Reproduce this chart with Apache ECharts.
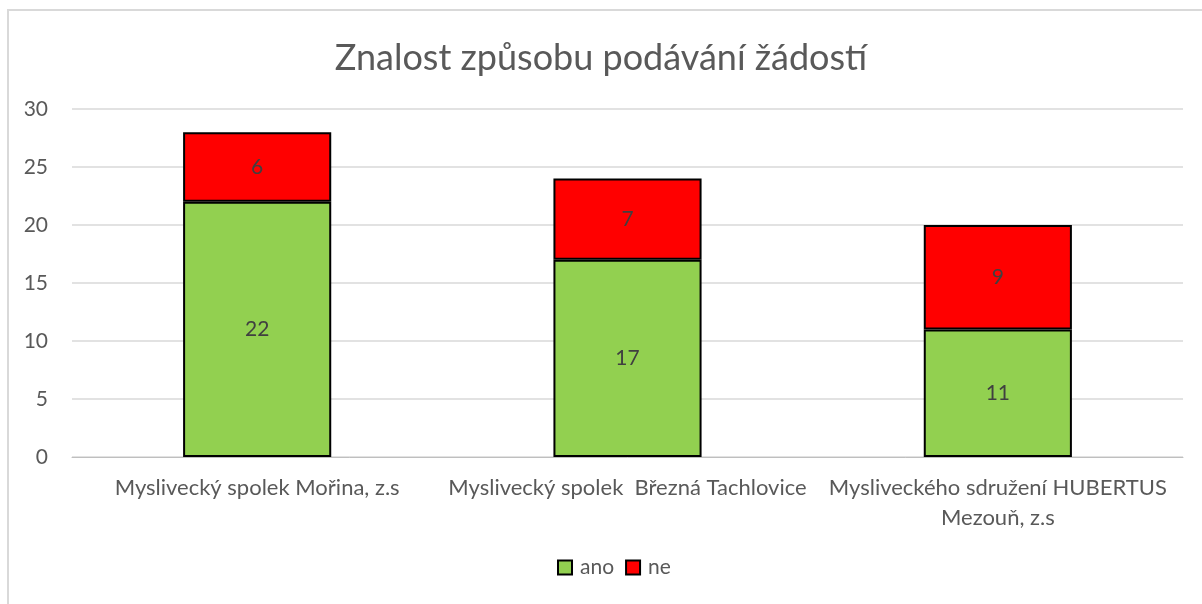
<!DOCTYPE html>
<html>
<head>
<meta charset="utf-8">
<script src="https://cdn.jsdelivr.net/npm/echarts@6/dist/echarts.min.js"></script>
<style>
  html, body { margin: 0; padding: 0; background: #fff; }
  #chart { width: 1202px; height: 604px; }
</style>
</head>
<body>
<div id="chart"></div>
<script>
// data
var titleText = "Znalost způsobu podávání žádostí";
var categories = [
  "Myslivecký spolek Mořina, z.s",
  "Myslivecký spolek  Březná Tachlovice",
  "Mysliveckého sdružení HUBERTUS\nMezouň, z.s"
];
var anoValues = [22, 17, 11];
var neValues = [6, 7, 9];

var textColor = "#595959";
var fontName = "Lato, 'Open Sans', sans-serif";

var chart = echarts.init(document.getElementById("chart"));

var option = {
  backgroundColor: "#fff",
  animation: false,
  textStyle: { fontFamily: fontName },
  graphic: [
    {
      type: "rect",
      shape: { x: 8, y: 10, width: 1220, height: 620 },
      style: { fill: "none", stroke: "#d9d9d9", lineWidth: 2 },
      silent: true
    }
  ],
  title: {
    text: titleText,
    left: "center",
    top: 35,
    textStyle: { color: textColor, fontSize: 36, fontWeight: "normal", fontFamily: fontName }
  },
  legend: {
    bottom: 21,
    left: 552,
    itemWidth: 14,
    itemHeight: 14,
    itemGap: 11,
    icon: "rect",
    textStyle: { color: textColor, fontSize: 21, fontFamily: fontName, padding: [0, 0, 0, 3] },
    data: ["ano", "ne"]
  },
  grid: {
    left: 72,
    right: 19,
    top: 109,
    bottom: 147
  },
  xAxis: {
    type: "category",
    data: categories,
    axisTick: { show: false },
    axisLine: { lineStyle: { color: "#bfbfbf", width: 1 } },
    axisLabel: {
      color: textColor,
      fontSize: 22,
      margin: 16,
      lineHeight: 30,
      interval: 0
    }
  },
  yAxis: {
    type: "value",
    min: 0,
    max: 30,
    interval: 5,
    axisLine: { show: false },
    axisTick: { show: false },
    axisLabel: { color: textColor, fontSize: 21, margin: 24 },
    splitLine: { lineStyle: { color: "#d9d9d9", width: 1.5 } }
  },
  series: [
    {
      name: "ano",
      type: "bar",
      stack: "total",
      data: anoValues,
      barWidth: "40%",
      itemStyle: { color: "#92d050", borderColor: "#000", borderWidth: 2 },
      label: { show: true, position: "inside", color: "#404040", fontSize: 21 }
    },
    {
      name: "ne",
      type: "bar",
      stack: "total",
      data: neValues,
      barWidth: "40%",
      itemStyle: { color: "#ff0000", borderColor: "#000", borderWidth: 2 },
      label: { show: true, position: "inside", color: "#404040", fontSize: 21 }
    }
  ]
};

chart.setOption(option);
</script>
</body>
</html>
